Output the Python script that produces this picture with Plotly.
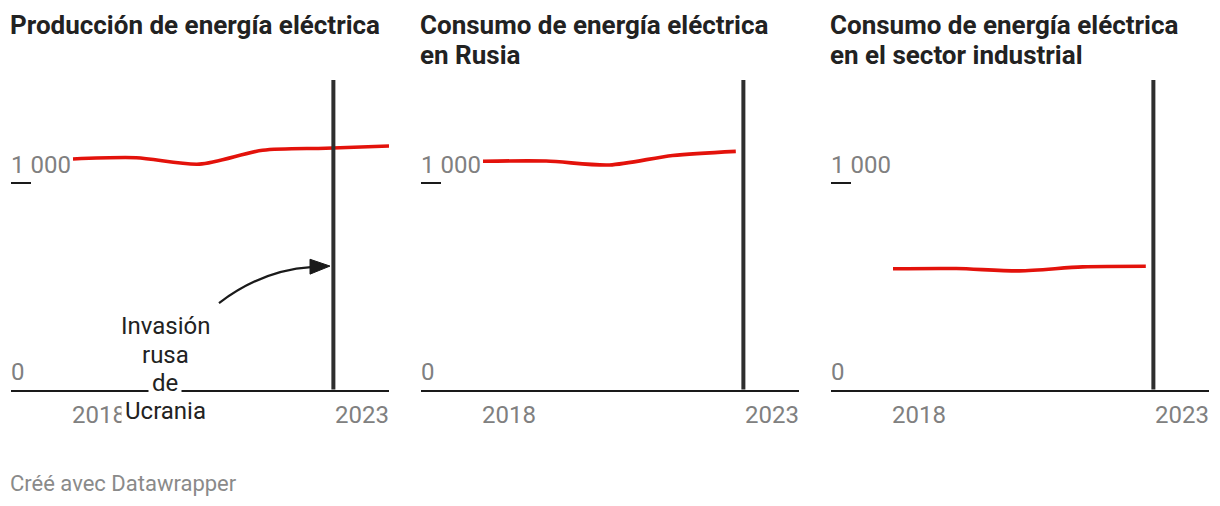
import plotly.graph_objects as go

# ---------------- data ----------------
years = [2018, 2019, 2020, 2021, 2022, 2023]
produccion = [1115, 1121, 1090, 1157, 1167, 1178]
consumo_rusia = [1104, 1105, 1086, 1132, 1152]
consumo_industrial = [584, 585, 574, 593, 596]

titles = [
    ["Producción de energía eléctrica"],
    ["Consumo de energía eléctrica", "en Rusia"],
    ["Consumo de energía eléctrica", "en el sector industrial"],
]
ytick_vals = [0, 1000]
ytick_text = ["0", "1 000"]
xtick_labels = ["2018", "2023"]
invasion_x = 2022.12
annotation_lines = ["Invasión", "rusa", "de", "Ucrania"]
footer = "Créé avec Datawrapper"

# ---------------- layout helpers ----------------
W, H = 1220, 506
FONT = "Roboto"
RED = "#e3120b"
GRAY = "#808080"
DARK = "#222222"

panel_left = [11, 421, 831]
panel_w = 378
y_bottom_px, y_top_px = 389.5, 80
x_range = [2017.019, 2023.0]
y_range = [0, 1497]


def py(px):
    return 1 - px / H


series = [
    (years, produccion),
    (years[:5], consumo_rusia),
    (years[:5], consumo_industrial),
]

fig = go.Figure()
annotations = []
shapes = []

for i in range(3):
    xa = "x" if i == 0 else f"x{i+1}"
    ya = "y" if i == 0 else f"y{i+1}"
    xs, ys = series[i]
    fig.add_trace(go.Scatter(
        x=xs, y=ys, mode="lines", xaxis=xa, yaxis=ya,
        line=dict(color=RED, width=3.6, shape="spline", smoothing=0.8),
        hoverinfo="skip", showlegend=False,
    ))
    xdom = [panel_left[i] / W, (panel_left[i] + panel_w) / W]
    ydom = [py(y_bottom_px), py(y_top_px)]
    xkey = "xaxis" if i == 0 else f"xaxis{i+1}"
    ykey = "yaxis" if i == 0 else f"yaxis{i+1}"
    fig.update_layout(**{
        xkey: dict(domain=xdom, range=x_range, anchor=ya,
                   showgrid=False, zeroline=False, showticklabels=False,
                   ticks="", showline=True, linecolor="#1a1a1a", linewidth=2,
                   fixedrange=True),
        ykey: dict(domain=ydom, range=y_range, anchor=xa,
                   showgrid=False, zeroline=False, showline=False,
                   tickvals=ytick_vals, ticktext=ytick_text,
                   ticks="inside", ticklen=20, tickwidth=2, tickcolor="#1a1a1a",
                   ticklabelposition="inside top", ticklabelstandoff=-3,
                   tickfont=dict(family=FONT, size=24, color=GRAY),
                   fixedrange=True),
    })
    # invasion vertical line
    shapes.append(dict(type="line", xref=xa, yref=f"{ya} domain",
                       x0=invasion_x, x1=invasion_x, y0=0, y1=1,
                       line=dict(color="#2e2e2e", width=4), layer="above"))
    # x tick labels (first left-aligned, last right-aligned)
    annotations.append(dict(xref=xa, yref="paper", x=years[0], y=py(415),
                            text=xtick_labels[0], showarrow=False,
                            xanchor="left", yanchor="middle", xshift=-3,
                            font=dict(family=FONT, size=24, color=GRAY)))
    annotations.append(dict(xref=xa, yref="paper", x=years[-1], y=py(415),
                            text=xtick_labels[1], showarrow=False,
                            xanchor="right", yanchor="middle", xshift=2,
                            font=dict(family=FONT, size=24, color=GRAY)))
    # title lines
    for j, line in enumerate(titles[i]):
        annotations.append(dict(xref="paper", yref="paper",
                                x=panel_left[i] / W, y=py(25 + 30 * j),
                                text=f"<b>{line}</b>", showarrow=False,
                                xanchor="left", yanchor="middle", align="left",
                                xshift=-3,
                                font=dict(family=FONT, size=26, color=DARK)))

# annotation text "Invasión rusa de Ucrania" (panel 1)
ann_x = 2019.456
ann_ypx = [326, 355, 383, 411]
for txt, ypx in zip(annotation_lines, ann_ypx):
    annotations.append(dict(xref="x", yref="paper", x=ann_x, y=py(ypx), text=txt,
                            showarrow=False, xanchor="center", yanchor="middle",
                            bgcolor="white", borderpad=3,
                            font=dict(family=FONT, size=24, color=DARK)))

# curved arrow to the invasion line
shapes.append(dict(type="path", xref="x", yref="y",
                   path="M 2020.310,418 Q 2020.991,577 2021.766,592",
                   line=dict(color="#1a1a1a", width=2.2)))
shapes.append(dict(type="path", xref="x", yref="y",
                   path="M 2022.066,597 L 2021.750,630 L 2021.750,558 Z",
                   fillcolor="#1a1a1a", line=dict(color="#1a1a1a", width=1)))

# footer
annotations.append(dict(xref="paper", yref="paper", x=11 / W, y=py(483),
                        text=footer, showarrow=False, xanchor="left",
                        yanchor="middle", xshift=-3,
                        font=dict(family=FONT, size=22, color="#8a8a8a")))

fig.update_layout(
    width=W, height=H,
    margin=dict(l=0, r=0, t=0, b=0, pad=0),
    paper_bgcolor="white", plot_bgcolor="white",
    annotations=annotations, shapes=shapes,
    showlegend=False,
)

fig.write_html("out.html", config={"displayModeBar": False},
               post_script="document.body.style.margin='0';document.body.style.padding='0';")
